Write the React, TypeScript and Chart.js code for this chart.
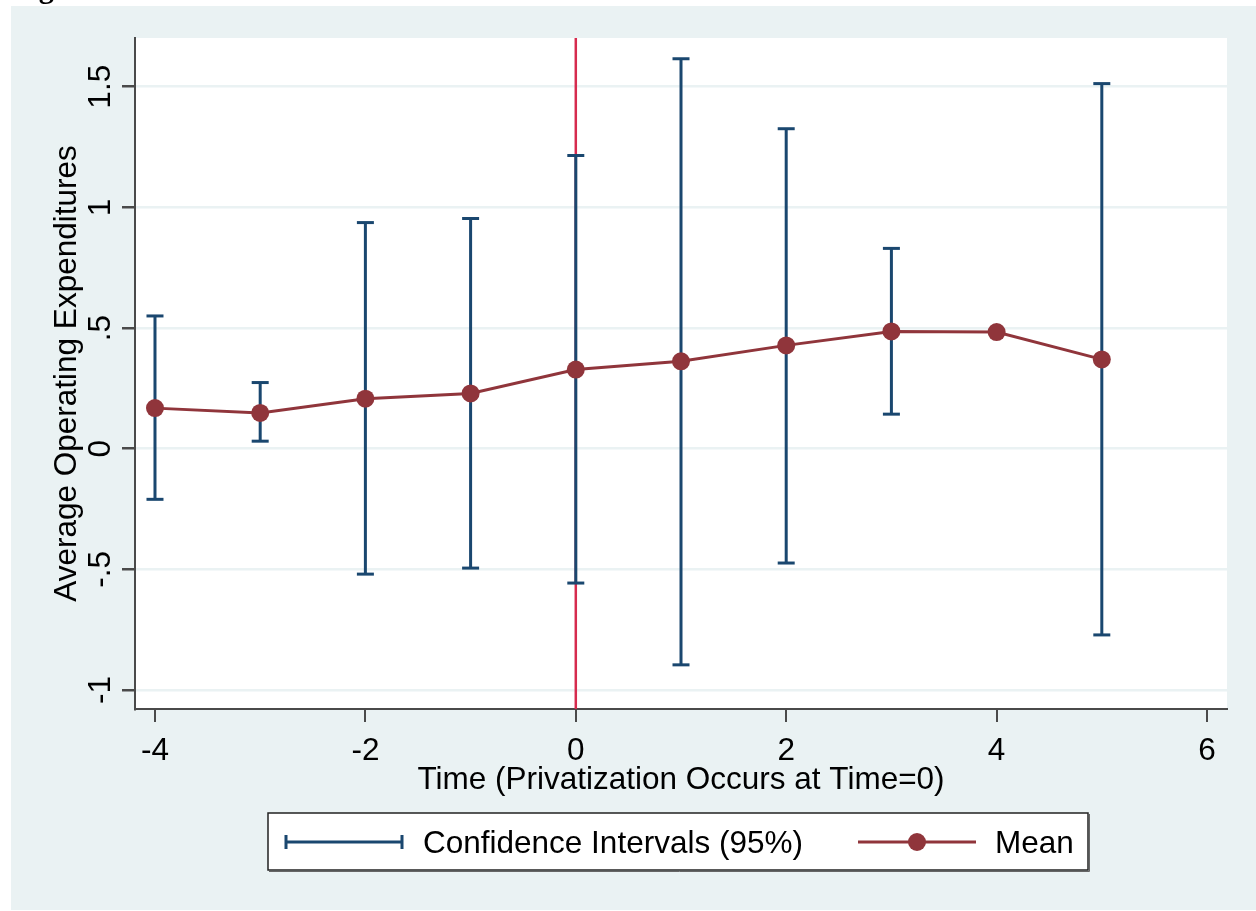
import React, { useEffect, useRef } from "react";
import { Chart, registerables } from "chart.js";

Chart.register(...registerables);

// ---- data ----
const timePoints = [-4, -3, -2, -1, 0, 1, 2, 3, 4, 5];
const meanValues = [0.168, 0.148, 0.207, 0.229, 0.328, 0.362, 0.428, 0.486, 0.483, 0.37];
const ciLower = [-0.21, 0.031, -0.52, -0.495, -0.557, -0.896, -0.474, 0.143, null, -0.772];
const ciUpper = [0.55, 0.274, 0.937, 0.954, 1.215, 1.616, 1.326, 0.83, null, 1.513];
const yTickValues = [-1, -0.5, 0, 0.5, 1, 1.5];
const yTickLabels = ["-1", "-.5", "0", ".5", "1", "1.5"];
const xTickValues = [-4, -2, 0, 2, 4, 6];
const xTickLabels = ["-4", "-2", "0", "2", "4", "6"];
const eventTime = 0;

const Y_MIN = -1.079;
const Y_MAX = 1.702;
const X_MIN = -4.19;
const X_MAX = 6.19;

const xTitle = "Time (Privatization Occurs at Time=0)";
const yTitle = "Average Operating Expenditures";
const legendCI = "Confidence Intervals (95%)";
const legendMean = "Mean";
const figLabel = "Figure";

const NAVY = "#1a476f";
const MAROON = "#90353b";
const RED = "#d62b4e";
const BG = "#eaf2f3";
const AXIS = "#4a4a4a";
const FONT = '31.5px "Liberation Sans", Arial, sans-serif';

const decorPlugin = {
  id: "decor",
  beforeDraw(chart: any) {
    const { ctx, chartArea } = chart;
    ctx.save();
    ctx.fillStyle = "#ffffff";
    ctx.fillRect(0, 0, chart.width, chart.height);
    ctx.fillStyle = BG;
    ctx.fillRect(11, 6, chart.width - 11, 904);
    ctx.fillStyle = "#ffffff";
    ctx.fillRect(chartArea.left, chartArea.top, chartArea.right - chartArea.left, chartArea.bottom - chartArea.top);
    // cut-off figure caption at top
    ctx.fillStyle = "#000";
    ctx.font = 'bold 30px "Liberation Serif", serif';
    ctx.textBaseline = "alphabetic";
    ctx.fillText(figLabel, 12, -2);
    ctx.restore();
  },
  afterDraw(chart: any) {
    const { ctx, chartArea } = chart;
    const xs = chart.scales.x;
    const ys = chart.scales.y;
    ctx.save();
    ctx.fillStyle = "#000";
    ctx.font = FONT;
    // y tick labels (rotated)
    ys.ticks.forEach((t: any) => {
      const idx = yTickValues.indexOf(t.value);
      if (idx < 0) return;
      const py = ys.getPixelForValue(t.value);
      ctx.save();
      ctx.translate(110, py);
      ctx.rotate(-Math.PI / 2);
      ctx.textAlign = "center";
      ctx.textBaseline = "alphabetic";
      ctx.fillText(yTickLabels[idx], 0, 0);
      ctx.restore();
    });
    // x tick labels
    ctx.textAlign = "center";
    ctx.textBaseline = "alphabetic";
    xs.ticks.forEach((t: any) => {
      const idx = xTickValues.indexOf(t.value);
      if (idx < 0) return;
      ctx.fillText(xTickLabels[idx], xs.getPixelForValue(t.value), 760);
    });
    // x title
    ctx.fillText(xTitle, (chartArea.left + chartArea.right) / 2, 789);
    // y title
    ctx.save();
    ctx.translate(76, (chartArea.top + chartArea.bottom) / 2);
    ctx.rotate(-Math.PI / 2);
    ctx.textAlign = "center";
    ctx.fillText(yTitle, 0, 0);
    ctx.restore();

    // legend
    const lx = 268, ly = 813, lw = 820, lh = 57;
    ctx.fillStyle = "#ffffff";
    ctx.fillRect(lx, ly, lw, lh);
    ctx.strokeStyle = "#222";
    ctx.lineWidth = 1.5;
    ctx.strokeRect(lx, ly, lw, lh);
    ctx.strokeStyle = "#666";
    ctx.lineWidth = 1;
    ctx.beginPath();
    ctx.moveTo(lx + 1, ly + lh + 1.5);
    ctx.lineTo(lx + lw + 1.5, ly + lh + 1.5);
    ctx.lineTo(lx + lw + 1.5, ly + 1);
    ctx.stroke();

    const cy = 842;
    ctx.strokeStyle = NAVY;
    ctx.lineWidth = 3;
    ctx.beginPath();
    ctx.moveTo(286, cy);
    ctx.lineTo(402, cy);
    ctx.moveTo(286, cy - 7);
    ctx.lineTo(286, cy + 7);
    ctx.moveTo(402, cy - 7);
    ctx.lineTo(402, cy + 7);
    ctx.stroke();
    ctx.fillStyle = "#000";
    ctx.textAlign = "left";
    ctx.fillText(legendCI, 423, cy + 11);

    ctx.strokeStyle = MAROON;
    ctx.beginPath();
    ctx.moveTo(858, cy);
    ctx.lineTo(976, cy);
    ctx.stroke();
    ctx.fillStyle = MAROON;
    ctx.beginPath();
    ctx.arc(917, cy, 9, 0, Math.PI * 2);
    ctx.fill();
    ctx.fillStyle = "#000";
    ctx.fillText(legendMean, 995, cy + 11);
    ctx.restore();
  },
};

export default function App() {
  const ref = useRef<HTMLCanvasElement | null>(null);
  useEffect(() => {
    if (!ref.current) return;
    const meanData = timePoints.map((x, i) => ({ x, y: meanValues[i] }));
    const ciSegments: any[] = [];
    const ciCaps: any[] = [];
    timePoints.forEach((x, i) => {
      const lo = ciLower[i];
      const hi = ciUpper[i];
      if (lo === null || hi === null) return;
      ciSegments.push({ x, y: lo }, { x, y: hi }, { x, y: null });
      ciCaps.push({ x, y: lo }, { x, y: hi });
    });
    const chart = new Chart(ref.current, {
      type: "line",
      data: {
        datasets: [
          {
            label: legendMean,
            data: meanData,
            borderColor: MAROON,
            borderWidth: 3,
            pointRadius: 9,
            pointBackgroundColor: MAROON,
            pointBorderWidth: 0,
            tension: 0,
          },
          {
            label: legendCI,
            data: ciSegments,
            borderColor: NAVY,
            borderWidth: 3,
            pointRadius: 0,
            spanGaps: false,
          },
          {
            label: "caps",
            data: ciCaps,
            showLine: false,
            borderColor: NAVY,
            pointStyle: "line",
            pointRadius: 8.5,
            pointBorderWidth: 3,
            pointBorderColor: NAVY,
          },
          {
            label: "event",
            data: [
              { x: eventTime, y: Y_MIN },
              { x: eventTime, y: Y_MAX },
            ],
            borderColor: RED,
            borderWidth: 2.5,
            pointRadius: 0,
          },
        ],
      },
      options: {
        animation: false,
        responsive: false,
        devicePixelRatio: 1,
        events: [],
        layout: { padding: { left: 0, top: 38, right: 29, bottom: 172 } },
        plugins: { legend: { display: false }, tooltip: { enabled: false } },
        scales: {
          x: {
            type: "linear",
            min: X_MIN,
            max: X_MAX,
            afterBuildTicks: (s: any) => {
              s.ticks = xTickValues.map((v) => ({ value: v }));
            },
            afterFit: (s: any) => {
              s.height = 30;
            },
            ticks: { display: false },
            grid: {
              drawOnChartArea: false,
              drawTicks: true,
              tickLength: 13,
              tickColor: AXIS,
              lineWidth: 2,
            },
            border: { display: true, color: AXIS, width: 2 },
          },
          y: {
            type: "linear",
            min: Y_MIN,
            max: Y_MAX,
            afterBuildTicks: (s: any) => {
              s.ticks = yTickValues.map((v) => ({ value: v }));
            },
            afterFit: (s: any) => {
              s.width = 135;
            },
            ticks: { display: false },
            grid: {
              drawOnChartArea: true,
              drawTicks: true,
              tickLength: 13,
              color: BG,
              tickColor: AXIS,
              lineWidth: 2.5,
            },
            border: { display: true, color: AXIS, width: 2 },
          },
        },
      },
      plugins: [decorPlugin],
    } as any);
    return () => chart.destroy();
  }, []);
  return (
    <div style={{ position: "absolute", left: 0, top: 0, width: 1256, height: 911 }}>
      <canvas ref={ref} width={1256} height={911} style={{ display: "block" }} />
    </div>
  );
}
